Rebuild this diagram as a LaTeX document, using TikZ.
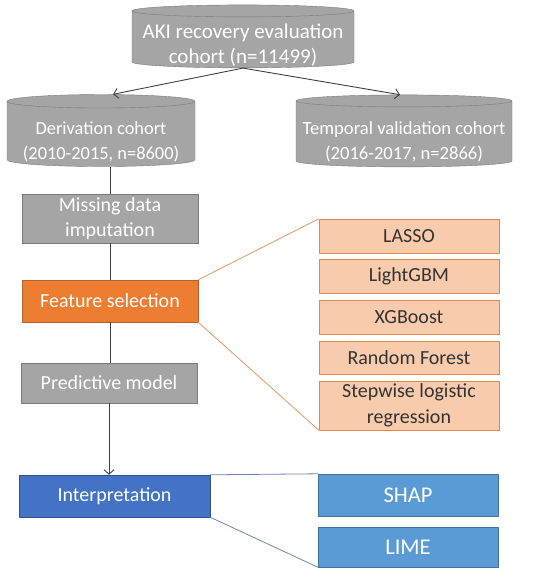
\documentclass[tikz,border=0pt]{standalone}
\usepackage{fontspec}
\setmainfont{Carlito}
\usetikzlibrary{shapes.geometric,arrows.meta}
\definecolor{cohortgray}{HTML}{A5A5A5}
\definecolor{edgegray}{HTML}{7A7A7A}
\definecolor{featorange}{HTML}{ED7D31}
\definecolor{featedge}{HTML}{B8602A}
\definecolor{methodfill}{HTML}{F8CBAD}
\definecolor{methodedge}{HTML}{D98B57}
\definecolor{interpblue}{HTML}{4472C4}
\definecolor{interpedge}{HTML}{2F528F}
\definecolor{toolblue}{HTML}{5B9BD5}
\definecolor{tooledge}{HTML}{41719C}
\newcommand{\cylfill}{\hspace*{150pt}\strut}
\tikzset{
  cohort/.style={cylinder, shape border rotate=90, draw=edgegray, fill=cohortgray,
    inner sep=0pt},
  cohorttext/.style={text=white, align=center, inner sep=0pt,
    font=\fontsize{18.4}{24.5}\selectfont},
  stagebox/.style={draw=edgegray, fill=cohortgray, text=white, align=center,
    minimum width=176pt, inner sep=0pt},
  methodbox/.style={draw=methodedge, fill=methodfill, text=black!80, align=center,
    minimum width=180pt, inner sep=0pt},
  toolbox/.style={draw=tooledge, fill=toolblue, text=white,
    minimum width=180pt, inner sep=0pt, font=\fontsize{22.5}{27}\selectfont},
  conn/.style={draw=black!75, line width=0.9pt},
}
\begin{document}
\begin{tikzpicture}[x=1pt, y=-1pt, font=\fontsize{20}{25.5}\selectfont, line join=round,
  >={Straight Barb[length=4.5pt, width=10pt]}]
\useasboundingbox (0,0) rectangle (536,584);
% Các cohort
\node[cohort, minimum width=222pt, minimum height=63pt, aspect=0.08] (aki) at (243,39.5) {\cylfill};
\node[cohorttext, font=\fontsize{21}{25}\selectfont] (akitext) at ([yshift=-6]aki.center)
  {AKI recovery evaluation\\cohort (n=11499)};
\node[cohort, minimum width=188pt, minimum height=72pt, aspect=0.09] (deriv) at (101,134) {\cylfill};
\node[cohorttext] (derivtext) at ([yshift=-8]deriv.center) {Derivation cohort\\(2010-2015, n=8600)};
\node[cohort, minimum width=216pt, minimum height=72pt, aspect=0.08] (temporal) at (404,134) {\cylfill};
\node[cohorttext, font=\fontsize{18.6}{24.5}\selectfont] (temporaltext) at ([yshift=-8]temporal.center)
  {Temporal validation cohort\\(2016-2017, n=2866)};
% Các bước bên trái
\node[stagebox, minimum height=49pt] (missing) at (110,218.5) {Missing data\\imputation};
\node[stagebox, minimum height=42pt, fill=featorange, draw=featedge] (feature) at (110,301) {Feature selection};
\node[stagebox, minimum height=40pt] (predict) at (109,383) {Predictive model};
\node[stagebox, minimum width=191pt, minimum height=42pt, fill=interpblue, draw=interpedge] (interp) at (114.5,496) {Interpretation};
% Các phương pháp chọn đặc trưng
\node[methodbox, minimum height=34pt] (lasso) at (409,236) {LASSO};
\node[methodbox, minimum height=34pt] (lgbm) at (409,276) {LightGBM};
\node[methodbox, minimum height=34pt] (xgb) at (409,317) {XGBoost};
\node[methodbox, minimum height=33pt] (rf) at (409,357.5) {Random Forest};
\node[methodbox, minimum height=49pt] (stepwise) at (409,405.5) {Stepwise logistic\\regression};
% Công cụ giải thích
\node[toolbox, minimum height=42pt] (shap) at (408,495) {SHAP};
\node[toolbox, minimum height=40pt] (lime) at (408,547) {LIME};
% Mũi tên
\draw[conn,->] (aki.south) -- ([xshift=12]deriv.north);
\draw[conn,->] (aki.south) -- ([xshift=-4]temporal.north);
\draw[conn] (missing.north |- deriv.south) -- (missing.north);
\draw[conn] (missing.south) -- (feature.north);
\draw[conn] (feature.south) -- (predict.north -| feature.south);
\draw[conn,->] (predict.south) -- (predict.south |- interp.north);
% Đường nối
\draw[featorange!60!brown!80, line width=0.8pt] (feature.north east) -- (lasso.north west);
\draw[featorange!60!brown!80, line width=0.8pt] (feature.south east) -- (stepwise.south west);
\draw[interpedge!70, line width=0.8pt] (interp.north east) -- (shap.north west);
\draw[interpedge!70, line width=0.8pt] (interp.south east) -- (lime.south west);
\end{tikzpicture}
\end{document}
